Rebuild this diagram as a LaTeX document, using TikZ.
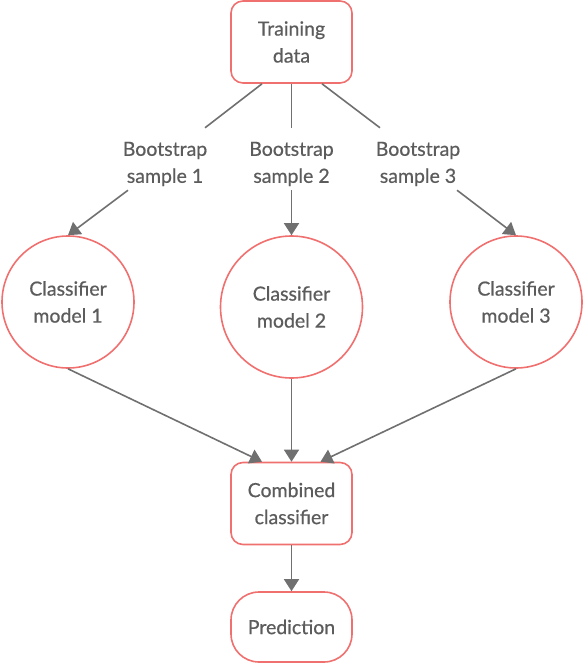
\documentclass[tikz,border=0pt]{standalone}
\usepackage{fontspec}
\setmainfont{Lato}[FakeBold=0.6]
\usepackage{tikz}
\usetikzlibrary{arrows.meta}
\usetikzlibrary{calc}

\definecolor{boxred}{RGB}{240,112,112}
\definecolor{txtgray}{RGB}{92,92,92}
\definecolor{arrgray}{RGB}{112,112,112}

\tikzset{
  box/.style={draw=boxred,line width=1.6pt,rounded corners=12pt,minimum width=121pt,minimum height=82pt,align=center,inner sep=0pt},
  clf/.style={circle,draw=boxred,line width=1.6pt,align=center,inner sep=0pt},
  lbl/.style={align=center,inner sep=0pt,minimum height=72pt},
  link/.style={draw=arrgray,line width=1.6pt},
  arr/.style={link,-{Triangle[length=12pt,width=15pt]}}
}

\begin{document}
\begin{tikzpicture}[x=1pt,y=1pt,font=\fontsize{19.5}{27}\selectfont,text=txtgray]
\useasboundingbox (0,0) rectangle (584,-664);
\node (train) [box] at (291.5,-42) {Training\\data};
\node (b1) [lbl] at (165,-164) {Bootstrap\\sample 1};
\node (b2) [lbl] at (291.5,-164) {Bootstrap\\sample 2};
\node (b3) [lbl] at (418,-164) {Bootstrap\\sample 3};
\node (c1) [clf,minimum size=132pt] at (68,-302) {Classifier\\model 1};
\node (c2) [clf,minimum size=142pt] at (291.5,-307) {Classifier\\model 2};
\node (c3) [clf,minimum size=132pt] at (516,-302) {Classifier\\model 3};
\node (comb) [box] at (291.5,-503.5) {Combined\\classifier};
\node (pred) [box,rounded corners=28pt,minimum height=70pt] at (291.5,-627) {Prediction};
\draw[link] ([xshift=-29.5pt]train.south) -- ([xshift=40pt]b1.north);
\draw[link] (train.south) -- (b2.north);
\draw[link] ([xshift=30.5pt]train.south) -- ([xshift=-38pt]b3.north);
\draw[arr] ([xshift=-37pt,yshift=10pt]b1.south) -- (c1.north);
\draw[arr] ([yshift=10pt]b2.south) -- (c2.north);
\draw[arr] ([xshift=39pt,yshift=10pt]b3.south) -- (c3.north);
\draw[arr] (c1.south) -- ([xshift=-29.5pt]comb.north);
\draw[arr] (c2.south) -- (comb.north);
\draw[arr] (c3.south) -- ([xshift=29pt]comb.north);
\draw[arr] (comb.south) -- (pred.north);
\end{tikzpicture}
\end{document}
